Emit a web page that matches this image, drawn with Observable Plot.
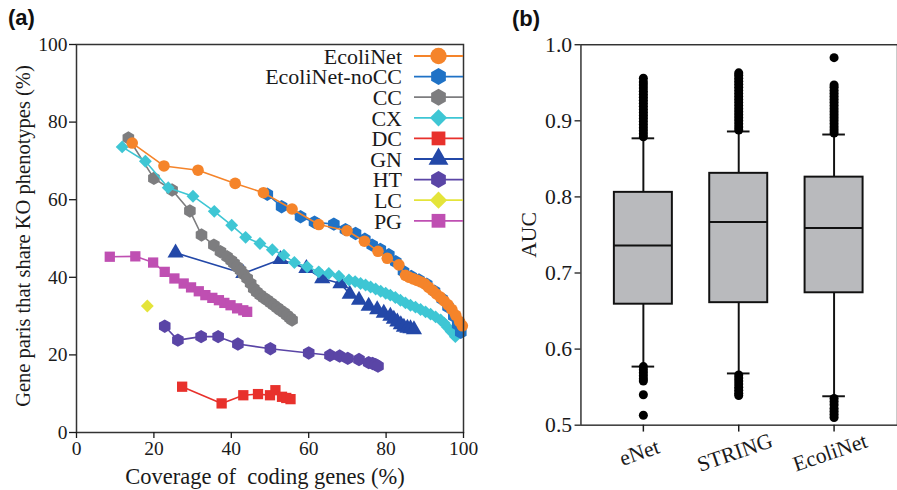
<!DOCTYPE html>
<html>
<head>
<meta charset="utf-8">
<script src="https://cdn.jsdelivr.net/npm/d3@7"></script>
<script src="https://cdn.jsdelivr.net/npm/@observablehq/plot@0.6"></script>
<style>
  html, body { margin: 0; padding: 0; background: #fff; overflow: hidden; }
  #wrap { display: flex; width: 897px; height: 490px; }
  .panel { position: relative; height: 490px; overflow: hidden; }
  .tag { position: absolute; font-family: "Liberation Sans", Arial, sans-serif; font-weight: bold; font-size: 22px; color: #111; }
  .overlay { position: absolute; left: 0; top: 0; pointer-events: none; }
</style>
</head>
<body>
<div id="wrap">
  <div class="panel" id="pa" style="width:490px"><div class="tag" style="left:8px;top:5px">(a)</div></div>
  <div class="panel" id="pb" style="width:407px"><div class="tag" style="left:22px;top:6px">(b)</div></div>
</div>
<script>
const SERIF = "'Liberation Serif', 'Times New Roman', serif";

// ---------- Panel (a) data ----------
const seriesNames = ["EcoliNet", "EcoliNet-noCC", "CC", "CX", "DC", "GN", "HT", "LC", "PG"];
const seriesColors = ["#f5842a", "#1f72c6", "#7d7d7f", "#3ec6d4", "#e8312c", "#2348a8", "#5a45a6", "#e4e43a", "#bf4fb2"];
const seriesSymbols = ["circle", "hexagon", "hexagon", "diamond2", "square", "triangle", "hexagon", "diamond2", "square"];

const ecoliX = [14.4, 22.6, 31.4, 41.0, 48.3, 55.7, 62.6, 69.9, 74.4, 77.9, 80.3, 83.3, 85.0, 86.0, 87.0, 88.0, 89.0, 90.0, 91.0, 92.0, 93.0, 94.0, 95.0, 96.0, 97.0, 98.0, 99.0, 99.7];
const ecoliY = [74.6, 68.7, 67.6, 64.2, 61.8, 57.6, 53.6, 52.0, 49.3, 46.7, 44.9, 43.2, 40.5, 40.0, 39.6, 39.2, 38.8, 38.3, 37.4, 36.6, 35.7, 34.9, 33.9, 32.9, 31.7, 30.2, 28.6, 27.5];

const noccX = [49.3, 53.0, 57.9, 61.5, 66.5, 69.5, 72.1, 74.5, 76.4, 78.5, 80.7, 82.5, 84.5, 86.5, 88.5, 90.5, 92.5, 94.5, 96.0, 97.5, 98.5, 99.3];
const noccY = [61.4, 58.2, 55.6, 54.2, 53.7, 52.3, 51.3, 49.8, 48.3, 47.2, 45.8, 44.0, 41.5, 40.2, 39.3, 38.2, 36.4, 34.4, 32.4, 30.0, 27.8, 25.8];

const ccX = [13.4, 20.0, 24.7, 29.3, 32.3, 35.5, 37.2, 38.9, 40.0, 40.7, 41.5, 42.4, 43.2, 44.1, 45.0, 45.8, 46.6, 47.5, 48.4, 49.3, 50.2, 51.0, 51.9, 52.7, 53.6, 54.4, 55.2, 55.7];
const ccY = [75.9, 65.5, 62.5, 57.1, 50.9, 48.3, 46.6, 45.3, 44.3, 43.6, 42.7, 41.8, 40.8, 39.7, 38.4, 37.1, 36.2, 35.4, 34.7, 34.1, 33.4, 32.8, 32.1, 31.5, 30.9, 30.2, 29.5, 29.0];

const cxX = [11.8, 17.8, 23.7, 30.1, 35.6, 40.1, 43.7, 47.4, 50.6, 53.6, 56.3, 59.6, 62.6, 65.2, 67.8, 70.4, 72.0, 73.4, 74.7, 76.0, 77.3, 78.6, 79.9, 81.1, 82.4, 83.7, 85.0, 86.3, 87.6, 88.9, 90.2, 91.5, 92.8, 94.1, 95.0, 95.8, 96.8, 97.9];
const cxY = [73.6, 69.9, 63.1, 60.9, 57.0, 53.4, 50.3, 48.7, 47.1, 45.7, 43.8, 42.7, 41.4, 41.0, 40.3, 39.3, 38.9, 38.4, 38.0, 37.5, 37.0, 36.4, 35.9, 35.4, 34.8, 34.1, 33.4, 32.8, 32.3, 31.7, 31.1, 30.5, 29.8, 29.0, 28.2, 27.2, 26.0, 24.7];

const dcX = [27.3, 37.5, 43.1, 46.9, 50.0, 51.4, 53.1, 54.2, 55.3];
const dcY = [11.8, 7.5, 9.6, 9.9, 9.6, 10.9, 9.2, 8.9, 8.6];

const gnX = [25.6, 43.1, 52.7, 59.4, 63.5, 68.2, 70.6, 73.0, 75.5, 77.7, 79.4, 81.1, 82.0, 82.9, 83.8, 84.6, 85.5, 86.3, 87.2];
const gnY = [46.3, 41.0, 44.6, 42.3, 39.7, 38.4, 35.7, 34.1, 32.6, 31.7, 30.8, 30.0, 29.2, 28.5, 27.8, 27.2, 26.9, 26.8, 26.5];

const htX = [22.8, 26.2, 32.2, 36.6, 41.7, 50.1, 60.0, 65.5, 68.0, 70.1, 73.0, 75.5, 76.5, 77.3, 77.9];
const htY = [27.4, 23.8, 24.7, 24.7, 22.8, 21.6, 20.5, 19.9, 19.7, 19.1, 18.8, 18.0, 17.8, 17.5, 17.1];

const lcX = [18.3];
const lcY = [32.6];

const pgX = [8.6, 15.2, 19.8, 22.8, 25.3, 27.7, 29.6, 31.6, 33.3, 35.1, 36.8, 38.2, 39.8, 41.5, 43.1, 44.1];
const pgY = [45.3, 45.4, 43.8, 41.4, 39.7, 38.4, 37.4, 36.4, 35.4, 34.7, 34.1, 33.4, 32.8, 32.0, 31.5, 31.1];

const xTicksA = [0, 20, 40, 60, 80, 100];
const yTicksA = [0, 20, 40, 60, 80, 100];
const xLabelA = "Coverage of  coding genes (%)";
const yLabelA = "Gene paris that share KO phenotypes (%)";

// ---------- Panel (b) data ----------
const cats = ["eNet", "STRING", "EcoliNet"];
const q1 = [0.659, 0.661, 0.674];
const med = [0.736, 0.767, 0.759];
const q3 = [0.806, 0.831, 0.826];
const whiskLo = [0.577, 0.568, 0.538];
const whiskHi = [0.877, 0.886, 0.882];
const outEnet = [0.879, 0.883, 0.887, 0.891, 0.895, 0.899, 0.903, 0.907, 0.911, 0.915, 0.919, 0.923, 0.927, 0.931, 0.935, 0.939, 0.943, 0.947, 0.951, 0.956, 0.577, 0.573, 0.569, 0.565, 0.561, 0.558, 0.540, 0.513];
const outString = [0.888, 0.892, 0.896, 0.900, 0.904, 0.908, 0.912, 0.916, 0.920, 0.924, 0.928, 0.932, 0.936, 0.940, 0.944, 0.948, 0.952, 0.956, 0.960, 0.963, 0.566, 0.562, 0.558, 0.554, 0.550, 0.546, 0.542, 0.539];
const outEcoli = [0.884, 0.888, 0.892, 0.896, 0.900, 0.904, 0.908, 0.912, 0.916, 0.920, 0.924, 0.928, 0.932, 0.936, 0.940, 0.944, 0.947, 0.983, 0.535, 0.531, 0.527, 0.522, 0.518, 0.514, 0.510];
const yTicksB = [0.5, 0.6, 0.7, 0.8, 0.9, 1.0];
const yLabelB = "AUC";

// ---------- Build panel (a) ----------
const seriesXs = [ecoliX, noccX, ccX, cxX, dcX, gnX, htX, lcX, pgX];
const seriesYs = [ecoliY, noccY, ccY, cxY, dcY, gnY, htY, lcY, pgY];
const drawOrder = [8, 7, 6, 5, 4, 2, 3, 1, 0];
const seriesMarks = [];
for (const i of drawOrder) {
  const data = seriesXs[i].map((x, k) => ({x, y: seriesYs[i][k]}));
  seriesMarks.push(Plot.line(data, {x: "x", y: "y", stroke: seriesColors[i], strokeWidth: 1.6}));
  seriesMarks.push(Plot.dot(data, {x: "x", y: "y", fill: seriesColors[i], stroke: "none", symbol: seriesSymbols[i], r: seriesSymbols[i] === "triangle" ? 6 : 5.8}));
}

const left = Plot.plot({
  width: 490, height: 490,
  marginLeft: 76, marginRight: 27, marginTop: 44, marginBottom: 58,
  style: {fontFamily: SERIF, fontSize: "19px", background: "transparent", color: "#1a1a1a", overflow: "visible"},
  x: {domain: [0, 100]},
  y: {domain: [0, 100]},
  marks: [
    ...seriesMarks,
    Plot.frame({stroke: "#333", strokeWidth: 1.5}),
    Plot.axisX({ticks: xTicksA, tickSize: 6, tickPadding: 3, label: null, fontSize: 19.5, strokeWidth: 1.3}),
    Plot.axisY({ticks: yTicksA, tickSize: 7, tickPadding: 2, label: null, fontSize: 19.5, strokeWidth: 1.3}),
    Plot.text([xLabelA], {text: d => d, frameAnchor: "bottom", textAnchor: "middle", lineAnchor: "middle", lineWidth: 1000, dy: 44, dx: -5, fontSize: 22.5})
  ]
});
document.getElementById("pa").appendChild(left);

// overlay for panel (a): y-axis title and legend
(function () {
  const svg = d3.select("#pa").append("svg").attr("class", "overlay").attr("width", 490).attr("height", 490);
  svg.append("text").attr("transform", "translate(23,236) rotate(-90)").attr("text-anchor", "middle").attr("dy", "0.35em")
    .style("font-family", SERIF).style("font-size", "20.5px").style("white-space", "pre").attr("fill", "#1a1a1a").text(yLabelA);
  const textRight = 402, lineX1 = 414, lineX2 = 463, markX = 438.5, y0 = 56, step = 20.6;
  function hexPath(r) {
    const pts = d3.range(6).map(k => { const a = Math.PI / 3 * k - Math.PI / 2; return [r * Math.cos(a), r * Math.sin(a)]; });
    return "M" + pts.map(p => p.join(",")).join("L") + "Z";
  }
  const symMap = {circle: d3.symbolCircle, square: d3.symbolSquare, triangle: d3.symbolTriangle, diamond2: d3.symbolDiamond2};
  seriesNames.forEach((name, i) => {
    const y = y0 + i * step;
    svg.append("text").attr("x", textRight).attr("y", y).attr("dy", "0.35em").attr("text-anchor", "end")
      .style("font-family", SERIF).style("font-size", "22px").attr("fill", "#1a1a1a").text(name);
    svg.append("line").attr("x1", lineX1).attr("x2", lineX2).attr("y1", y).attr("y2", y)
      .attr("stroke", seriesColors[i]).attr("stroke-width", 1.8);
    const s = seriesSymbols[i];
    const d = s === "hexagon" ? hexPath(8.5) : d3.symbol(symMap[s], s === "circle" ? 210 : s === "triangle" ? 170 : 190)();
    svg.append("path").attr("d", d).attr("transform", `translate(${markX},${y})`).attr("fill", seriesColors[i]);
  });
})();

// ---------- Build panel (b) ----------
const outliers = [];
outEnet.forEach(v => outliers.push({cat: cats[0], v}));
outString.forEach(v => outliers.push({cat: cats[1], v}));
outEcoli.forEach(v => outliers.push({cat: cats[2], v}));

const right = Plot.plot({
  width: 414, height: 490,
  marginLeft: 92, marginRight: 0, marginTop: 45, marginBottom: 58,
  style: {fontFamily: SERIF, fontSize: "19px", background: "transparent", color: "#1a1a1a", overflow: "visible"},
  x: {type: "band", domain: cats, paddingInner: 0.388, paddingOuter: 0.337},
  y: {domain: [0.5, 1.0]},
  marks: [
    Plot.frame({stroke: "#333", strokeWidth: 1.5}),
    Plot.ruleX(cats, {x: cats, y1: whiskLo, y2: whiskHi, stroke: "#111", strokeWidth: 2}),
    Plot.barY(cats, {x: cats, y1: q1, y2: q3, fill: "#b9babd", stroke: "#111", strokeWidth: 2}),
    Plot.tickY(cats, {x: cats, y: med, stroke: "#111", strokeWidth: 2}),
    Plot.tickY(cats, {x: cats, y: whiskHi, stroke: "#111", strokeWidth: 2, insetLeft: 18, insetRight: 18}),
    Plot.tickY(cats, {x: cats, y: whiskLo, stroke: "#111", strokeWidth: 2, insetLeft: 18, insetRight: 18}),
    Plot.dot(outliers, {x: "cat", y: "v", fill: "#000", stroke: "none", r: 4.6}),
    Plot.axisY({ticks: yTicksB, tickFormat: d3.format(".1f"), tickSize: 6, tickPadding: 3, label: null, fontSize: 22, strokeWidth: 1.3}),
    Plot.axisX({tickSize: 7, tickFormat: () => "", label: null, strokeWidth: 1.5}),
    Plot.text(cats, {x: cats, text: d => d, frameAnchor: "bottom", textAnchor: "middle", lineAnchor: "middle", dy: 28, dx: -4, rotate: -19, fontSize: 22}),
    Plot.text([yLabelB], {text: d => d, frameAnchor: "left", textAnchor: "middle", lineAnchor: "middle", rotate: -90, dx: -53, fontSize: 22})
  ]
});
document.getElementById("pb").appendChild(right);
</script>
</body>
</html>
